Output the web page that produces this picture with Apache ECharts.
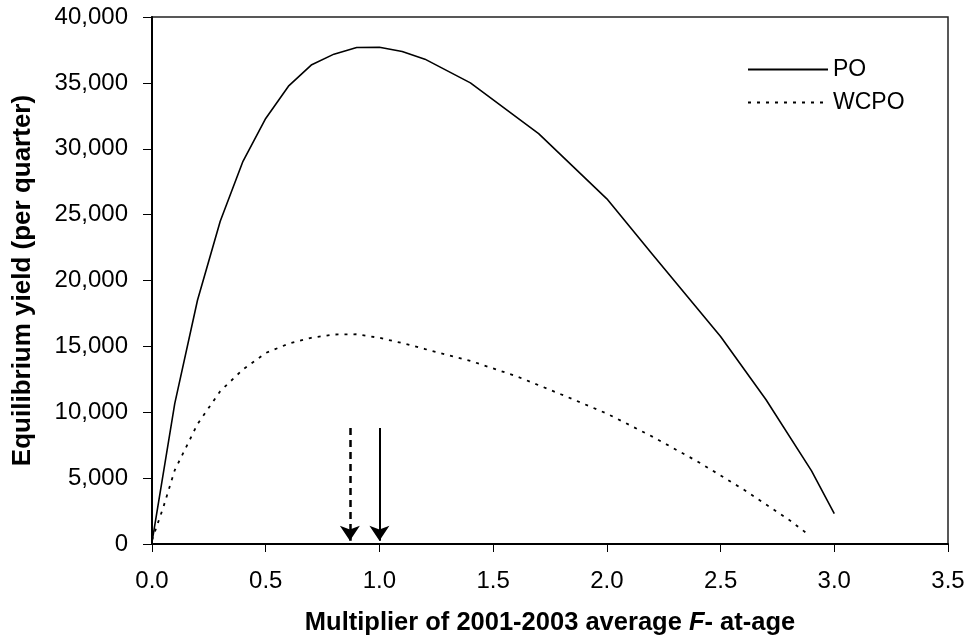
<!DOCTYPE html>
<html>
<head>
<meta charset="utf-8">
<script src="https://cdn.jsdelivr.net/npm/echarts@6/dist/echarts.min.js"></script>
<style>html,body{margin:0;padding:0;background:#fff;}#c{width:970px;height:643px;}</style>
</head>
<body>
<div id="c"></div>
<script>
const seriesNames = ['PO', 'WCPO'];
const poX = [0, 0.1, 0.2, 0.3, 0.4, 0.5, 0.6, 0.7, 0.8, 0.9, 1.0, 1.1, 1.2, 1.4, 1.7, 2.0, 2.2, 2.5, 2.7, 2.9, 3.0];
const poY = [150, 10650, 18500, 24500, 29050, 32300, 34750, 36350, 37180, 37680, 37700, 37380, 36800, 35000, 31150, 26200, 22000, 15750, 10950, 5550, 2300];
const wcpoX = [0, 0.05, 0.1, 0.2, 0.3, 0.4, 0.5, 0.6, 0.7, 0.8, 0.9, 1.0, 1.1, 1.2, 1.4, 1.6, 1.8, 2.0, 2.2, 2.4, 2.6, 2.8, 2.88];
const wcpoY = [300, 2800, 5600, 9100, 11600, 13250, 14500, 15200, 15650, 15900, 15920, 15650, 15250, 14800, 13900, 12750, 11350, 9900, 8150, 6250, 4150, 1850, 800];
const arrowX = [0.87, 1.0];
const arrowTop = [8800, 8800];
const arrowTip = [250, 250];
const yTicks = {min: 0, max: 40000, interval: 5000};
const xTicks = {min: 0, max: 3.5, interval: 0.5};

const zip = (xs, ys) => xs.map((x, i) => [x, ys[i]]);
const font = 'Liberation Sans, Arial, sans-serif';

const chart = echarts.init(document.getElementById('c'), null, {renderer: 'canvas'});
chart.setOption({
  animation: false,
  backgroundColor: '#fff',
  textStyle: {fontFamily: font, color: '#000'},
  grid: {left: 152, right: 22, top: 17, bottom: 99, show: true, borderColor: '#222', borderWidth: 1.5, backgroundColor: 'transparent'},
  legend: {
    data: seriesNames,
    orient: 'vertical',
    left: 742, top: 53,
    itemWidth: 80, itemHeight: 14, itemGap: 10,
    itemStyle: {opacity: 0},
    textStyle: {fontFamily: font, fontSize: 23, color: '#000'},
    selectedMode: false
  },
  xAxis: {
    type: 'value', min: xTicks.min, max: xTicks.max, interval: xTicks.interval,
    name: '{a|Multiplier of 2001-2003 average }{b|F}{a|- at-age}',
    nameLocation: 'middle', nameGap: 66,
    nameTextStyle: {rich: {
      a: {fontFamily: font, fontSize: 25.5, fontWeight: 'bold', color: '#000'},
      b: {fontFamily: font, fontSize: 25.5, fontWeight: 'bold', fontStyle: 'italic', color: '#000'}
    }},
    axisLine: {show: true, lineStyle: {color: '#000', width: 2}},
    axisTick: {show: true, inside: false, length: 8, lineStyle: {color: '#000', width: 1}},
    axisLabel: {fontFamily: font, fontSize: 24, color: '#000', margin: 25, formatter: v => v.toFixed(1)},
    splitLine: {show: false}
  },
  yAxis: {
    type: 'value', min: yTicks.min, max: yTicks.max, interval: yTicks.interval,
    name: 'Equilibrium yield (per quarter)',
    nameLocation: 'middle', nameGap: 116,
    nameTextStyle: {fontFamily: font, fontSize: 26, fontWeight: 'bold', color: '#000'},
    axisLine: {show: true, lineStyle: {color: '#000', width: 2}},
    axisTick: {show: true, inside: false, length: 9, lineStyle: {color: '#000', width: 1}},
    axisLabel: {fontFamily: font, fontSize: 24, color: '#000', margin: 24, formatter: v => v.toLocaleString('en-US')},
    splitLine: {show: false}
  },
  series: [
    {
      name: seriesNames[0], type: 'line', data: zip(poX, poY),
      symbol: 'none', smooth: false,
      lineStyle: {color: '#000', width: 1.6, type: 'solid'},
      itemStyle: {color: '#000'},
      markLine: {
        silent: true, symbol: ['none', 'arrow'], symbolSize: 15,
        label: {show: false},
        data: [
          [{coord: [arrowX[1], arrowTop[1]]}, {coord: [arrowX[1], arrowTip[1]]}]
        ],
        lineStyle: {color: '#000', width: 2, type: 'solid'}
      }
    },
    {
      name: seriesNames[1], type: 'line', data: zip(wcpoX, wcpoY),
      symbol: 'none', smooth: false,
      lineStyle: {color: '#000', width: 1.8, type: [3, 6]},
      itemStyle: {color: '#000'},
      markLine: {
        silent: true, symbol: ['none', 'arrow'], symbolSize: 15,
        label: {show: false},
        data: [
          [{coord: [arrowX[0], arrowTop[0]]}, {coord: [arrowX[0], arrowTip[0]]}]
        ],
        lineStyle: {color: '#000', width: 2.5, type: [7, 5]}
      }
    }
  ]
});
</script>
</body>
</html>
